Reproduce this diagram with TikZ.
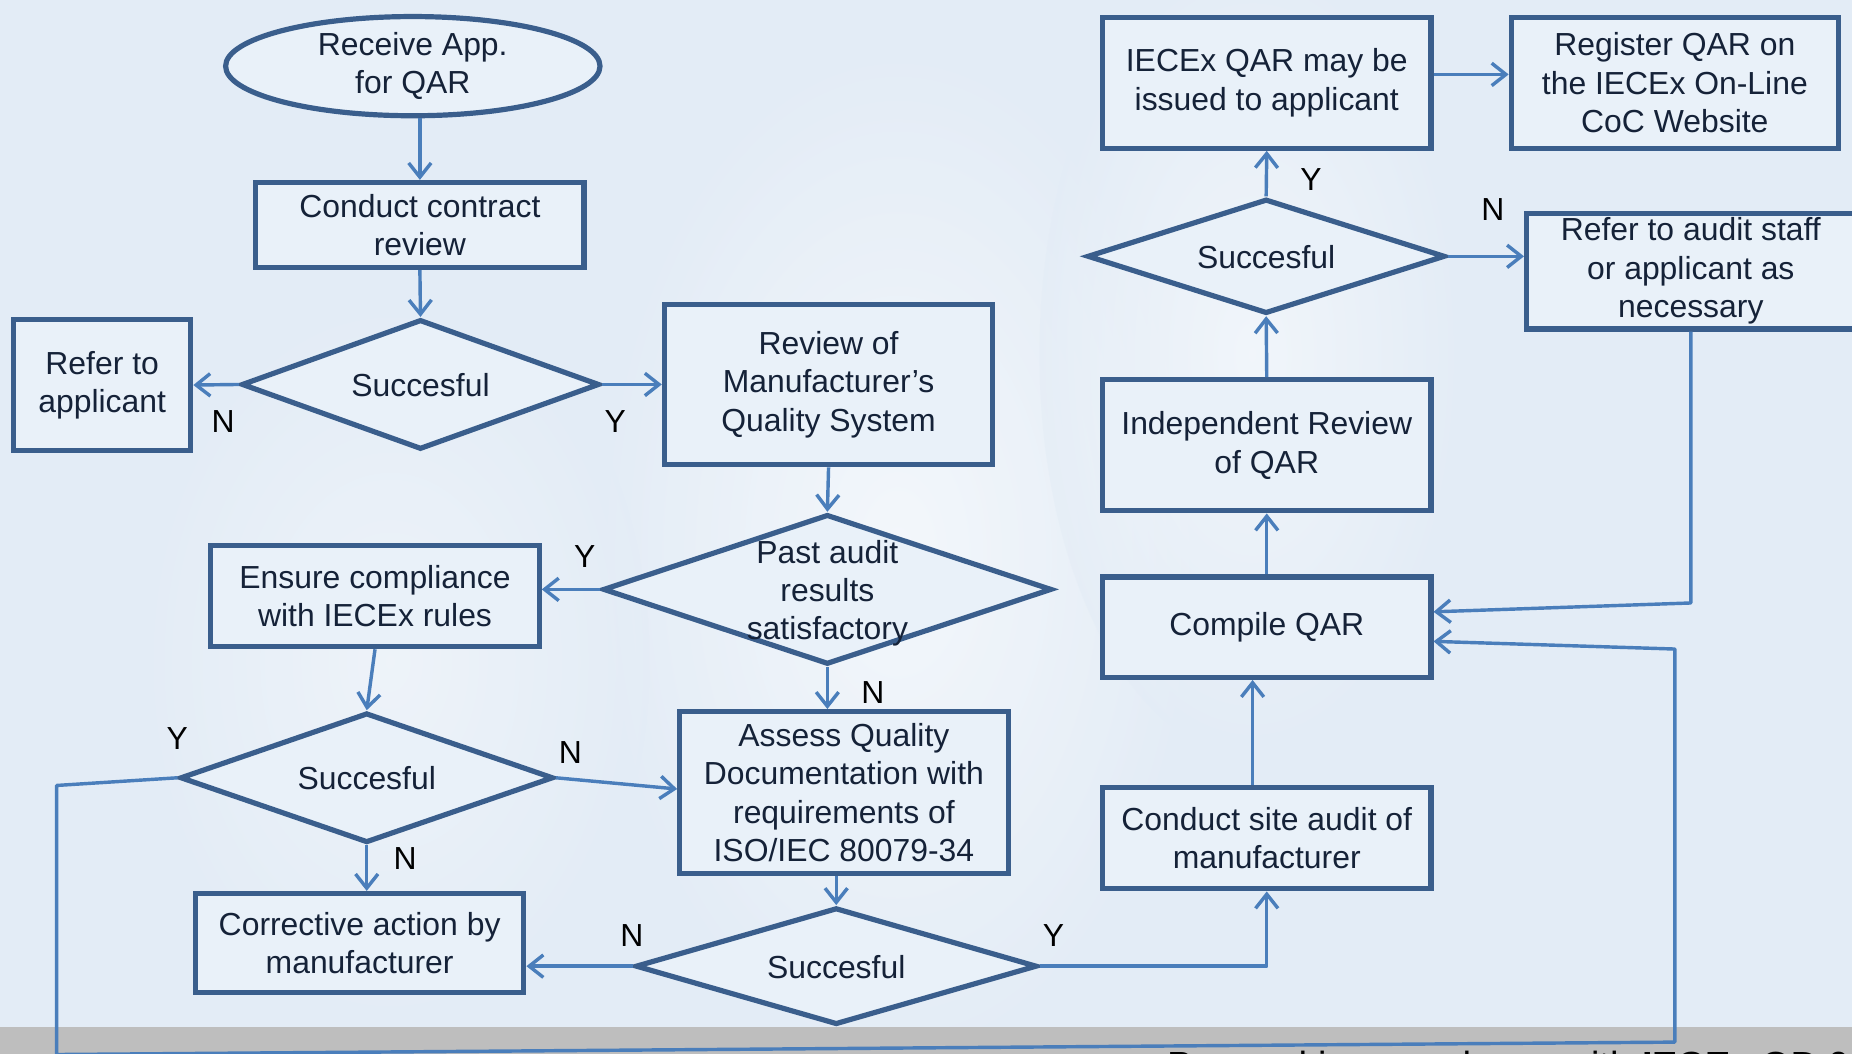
\documentclass[tikz,border=0pt]{standalone}
\usepackage{fontspec}
\setmainfont{Liberation Sans}
\usetikzlibrary{shapes.geometric,arrows.meta}
\definecolor{bg}{HTML}{E3ECF6}
\definecolor{boxc}{HTML}{3A5E8C}
\definecolor{arr}{HTML}{4A7EBB}
\definecolor{txt}{HTML}{152238}
\definecolor{fillc}{HTML}{E9F1F9}
\definecolor{band}{HTML}{BEBEBE}
\newcommand{\dtxt}[1]{\smash{\raisebox{-10pt}{\makebox[0pt]{\begin{tabular}{@{}c@{}}#1\end{tabular}}}}}
\begin{document}
\begin{tikzpicture}[x=1pt,y=-1pt,
  every node/.style={font=\fontsize{27}{32.5}\selectfont},
  box/.style={rectangle, draw=boxc, line width=4.4pt, fill=fillc, text=txt, align=center, inner sep=0pt},
  dia/.style={diamond, draw=boxc, line width=4.4pt, fill=fillc, text=txt, inner sep=0pt, aspect=1},
  oval/.style={ellipse, draw=boxc, line width=4.4pt, fill=fillc, text=txt, align=center, inner sep=0pt},
  conn/.style={draw=arr, line width=2.9pt, line join=round, -{Straight Barb[length=12pt,width=19pt,line width=2.9pt]}},
  lbl/.style={text=black, inner sep=0pt}]
\useasboundingbox (0,0) rectangle (1568,892);
\clip (0,0) rectangle (1568,892);
% background
\fill[bg] (0,0) rectangle (1568,892);
\shade[inner color=white, outer color=bg, opacity=0.6] (760,470) ellipse [x radius=260, y radius=440];
\shade[inner color=white, outer color=bg, opacity=0.5] (1060,300) ellipse [x radius=180, y radius=340];
\shade[inner color=white, outer color=bg, opacity=0.4] (330,560) ellipse [x radius=220, y radius=320];
\fill[band] (0,869.6) rectangle (1568,892);
% nodes
\node[oval, minimum width=317, minimum height=84] (start) at (349.5,56) {Receive App.\\for QAR};
\node[box, minimum width=278, minimum height=72] (contract) at (355.5,190.5) {Conduct contract\\review};
\node[dia, minimum width=303, minimum height=110] (d1) at (356,325.5) {\dtxt{Succesful}};
\node[box, minimum width=150, minimum height=111] (referapp) at (86.5,326) {Refer to\\applicant};
\node[box, minimum width=278, minimum height=136] (review) at (701.5,325.5) {Review of\\Manufacturer’s\\Quality System};
\node[dia, minimum width=380, minimum height=127] (d2) at (700.5,499) {\dtxt{Past audit\\results\\satisfactory}};
\node[box, minimum width=278, minimum height=86] (ensure) at (317.5,504.5) {Ensure compliance\\with IECEx rules};
\node[box, minimum width=278, minimum height=137] (assess) at (714.5,671) {Assess Quality\\Documentation with\\requirements of\\ISO/IEC 80079-34};
\node[dia, minimum width=316, minimum height=110] (d3) at (310.5,658.5) {\dtxt{Succesful}};
\node[box, minimum width=278, minimum height=84] (corrective) at (304.5,798.5) {Corrective action by\\manufacturer};
\node[dia, minimum width=340, minimum height=99] (d4) at (708,818) {\dtxt{Succesful}};
\node[box, minimum width=278, minimum height=86] (site) at (1072.5,709.5) {Conduct site audit of\\manufacturer};
\node[box, minimum width=278, minimum height=85] (compile) at (1072.5,531) {Compile QAR};
\node[box, minimum width=278, minimum height=111] (indep) at (1072.5,377) {Independent Review\\of QAR};
\node[dia, minimum width=303, minimum height=97] (d5) at (1072,217) {\dtxt{Succesful}};
\node[box, minimum width=278, minimum height=111] (issued) at (1072.5,70) {IECEx QAR may be\\issued to applicant};
\node[box, minimum width=277, minimum height=111] (register) at (1418,70) {Register QAR on\\the IECEx On-Line\\CoC Website};
\node[box, minimum width=278, minimum height=98] (referaudit) at (1431.5,229.5) {Refer to audit staff\\or applicant as\\necessary};
\node[anchor=base west, inner sep=0pt, text=black, font=\fontsize{32}{38}\selectfont] (foot) at (988,913) {Proceed in accordance with \textbf{IECEx OD 025}};
% labels
\node[lbl] (l1) at (189,357) {N};
\node[lbl] (l2) at (521,357) {Y};
\node[lbl] (l3) at (495,471) {Y};
\node[lbl] (l4) at (739,586) {N};
\node[lbl] (l5) at (150,625) {Y};
\node[lbl] (l6) at (483,637) {N};
\node[lbl] (l7) at (343,727) {N};
\node[lbl] (l8) at (535,792) {N};
\node[lbl] (l9) at (892,792) {Y};
\node[lbl] (l10) at (1110,152) {Y};
\node[lbl] (l11) at (1264,177) {N};
% waypoints
\coordinate (c1) at (1431.5,510.5);
\coordinate (c2) at (48,665);
\coordinate (c3) at (48,892.8);
\coordinate (c4) at (1418,882.3);
\coordinate (c5) at (1418,549.5);
% connectors
\draw[conn] (contract.north |- start.south) -- (contract.north);
\draw[conn] (contract.south) -- (d1.north);
\draw[conn] (d1.west) -- (referapp.east);
\draw[conn] (d1.east) -- (d1.east -| review.west);
\draw[conn] (review.south) -- (d2.north);
\draw[conn] (d2.west) -- (d2.west -| ensure.east);
\draw[conn] (d2.south) -- (d2.south |- assess.north);
\draw[conn] (ensure.south) -- (d3.north);
\draw[conn] (d3.east) -- ([yshift=3pt]assess.west);
\draw[conn] (d3.south) -- (d3.south |- corrective.north);
\draw[conn] (d4.north |- assess.south) -- (d4.north);
\draw[conn] (d4.west) -- (d4.west -| corrective.east);
\draw[conn] (d4.east) -- (d4.east -| site.south) -- (site.south);
\draw[conn] ([xshift=-12pt]site.north) -- ([xshift=-12pt]compile.south);
\draw[conn] (compile.north) -- (indep.south);
\draw[conn] (indep.north) -- (d5.south);
\draw[conn] (d5.north) -- (issued.south);
\draw[conn] ([yshift=7pt]issued.east) -- ([yshift=7pt]register.west);
\draw[conn] (d5.east) -- (d5.east -| referaudit.west);
\draw[conn] (referaudit.south) -- (c1) -- ([yshift=13pt]compile.east);
\draw[conn] (d3.west) -- (c2) -- (c3) -- (c4) -- (c5) -- ([yshift=-12pt]compile.east);
\end{tikzpicture}
\end{document}
